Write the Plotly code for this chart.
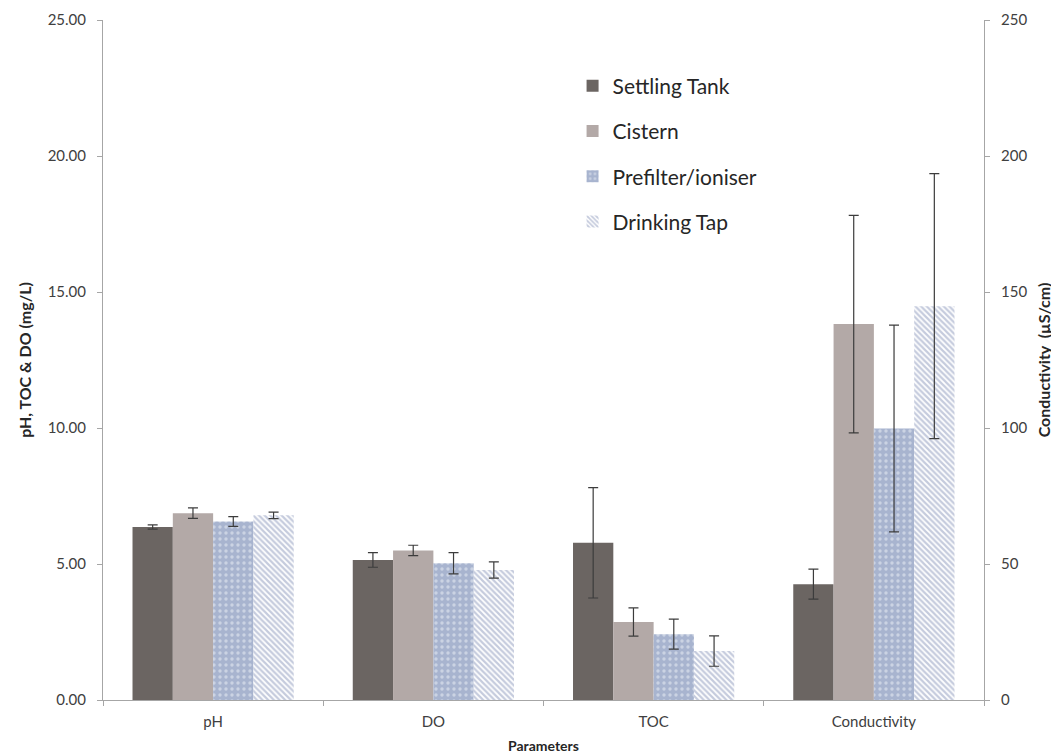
import plotly.graph_objects as go

categories = ["pH", "DO", "TOC", "Conductivity"]
series_names = ["Settling Tank", "Cistern", "Prefilter/ioniser", "Drinking Tap"]

# Left axis values (pH, DO, TOC)
settling = [6.36, 5.15, 5.78]
settling_err = [0.08, 0.27, 2.03]
cistern = [6.87, 5.50, 2.87]
cistern_err = [0.19, 0.19, 0.52]
prefilter = [6.56, 5.03, 2.42]
prefilter_err = [0.18, 0.39, 0.55]
tap = [6.79, 4.78, 1.80]
tap_err = [0.12, 0.30, 0.56]

# Right axis values (Conductivity, uS/cm) per series
conductivity = [42.6, 138.2, 99.8, 144.8]
conductivity_err = [5.5, 40.0, 38.0, 48.7]

left_vals = [settling, cistern, prefilter, tap]
left_errs = [settling_err, cistern_err, prefilter_err, tap_err]

FONT = "Lato, 'Open Sans', sans-serif"
err_color = "#3c3c3c"
markers = [
    dict(color="#6b6562", line=dict(width=0)),
    dict(color="#b3a9a7", line=dict(width=0)),
    dict(color="#a8b4cf", line=dict(width=0),
         pattern=dict(shape=".", fgcolor="#eef1f8", bgcolor="#a8b4cf", size=6, solidity=0.25)),
    dict(color="#ffffff", line=dict(width=0),
         pattern=dict(shape="\\", fgcolor="#8c98bb", bgcolor="#ffffff", size=4, solidity=0.55)),
]

bw = 0.183
offsets = [-2 * bw, -bw, 0, bw]

fig = go.Figure()
for i, name in enumerate(series_names):
    fig.add_trace(go.Bar(
        x=categories[:3], y=left_vals[i], name=name,
        marker=markers[i], width=bw, offset=offsets[i],
        error_y=dict(type="data", array=left_errs[i], color=err_color, thickness=1.2, width=5),
        legendgroup=name, showlegend=True, yaxis="y",
    ))
for i, name in enumerate(series_names):
    fig.add_trace(go.Bar(
        x=[categories[3]], y=[conductivity[i]], name=name,
        marker=markers[i], width=bw, offset=offsets[i],
        error_y=dict(type="data", array=[conductivity_err[i]], color=err_color, thickness=1.2, width=5),
        legendgroup=name, showlegend=False, yaxis="y2",
    ))

axis_col = "#a6a6a6"
tick_font = dict(family=FONT, size=15, color="#404040")

fig.update_layout(
    width=1051, height=746,
    margin=dict(l=95, r=75, t=12, b=54, autoexpand=False),
    paper_bgcolor="white", plot_bgcolor="white",
    barmode="overlay",
    font=dict(family=FONT, color="#404040"),
    showlegend=True,
    legend=dict(x=0.533, y=0.933, xanchor="left", yanchor="top",
                font=dict(family=FONT, size=21, color="#262626"),
                tracegroupgap=15, bgcolor="rgba(0,0,0,0)"),
    xaxis=dict(
        type="category", categoryorder="array", categoryarray=categories,
        range=[-0.5, 3.5],
        showline=True, linecolor=axis_col, linewidth=1,
        ticks="outside", tickson="boundaries", ticklen=5, tickcolor=axis_col,
        tickfont=tick_font, showgrid=False, ticklabelstandoff=8,
        title=dict(text="<b>Parameters</b>", font=dict(family=FONT, size=14, color="#262626"), standoff=12),
    ),
    yaxis=dict(
        range=[0, 25], dtick=5, tickformat=".2f",
        showline=True, linecolor=axis_col, linewidth=1,
        ticks="outside", ticklen=5, tickcolor=axis_col,
        tickfont=tick_font, showgrid=False, zeroline=False,
        ticklabelstandoff=8,
        title=dict(text="<b>pH, TOC &amp; DO (mg/L)</b>", font=dict(family=FONT, size=16, color="#262626"), standoff=12),
    ),
    yaxis2=dict(
        range=[0, 250], dtick=50, overlaying="y", side="right",
        showline=True, linecolor=axis_col, linewidth=1,
        ticks="outside", ticklen=5, tickcolor=axis_col,
        tickfont=tick_font, showgrid=False, zeroline=False,
        ticklabelstandoff=8,
        title=dict(text="<b>Conductivity  (µS/cm)</b>", font=dict(family=FONT, size=16, color="#262626"), standoff=12),
    ),
)

fig.write_html("out.html")
